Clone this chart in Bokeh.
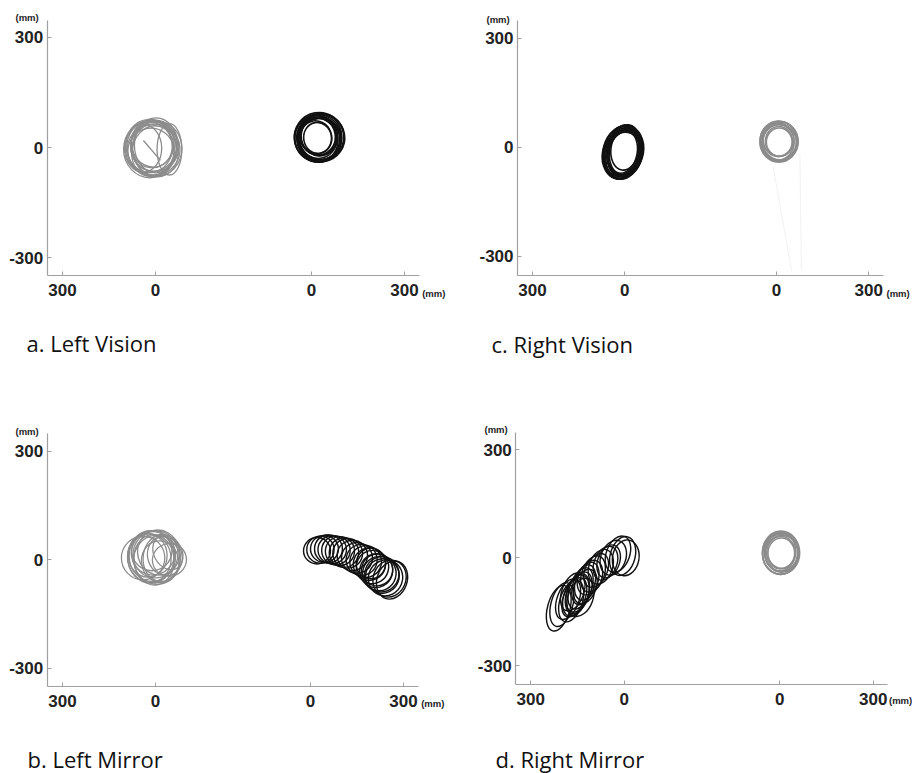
from bokeh.plotting import figure
from bokeh.models import FixedTicker, Label, ColumnDataSource
from bokeh.layouts import row, column
from bokeh.embed import file_html
from bokeh.resources import INLINE

# ---------------- data (mm, relative to each hand's own zero) ----------------
Y_TICKS = [-300, 0, 300]
Y_TICK_LABELS = ["-300", "0", "300"]
X_TICK_LABELS = ["300", "0", "0", "300"]
CAPTIONS = ["a. Left Vision", "c. Right Vision", "b. Left Mirror", "d. Right Mirror"]

# panel a - left vision: gray (left hand) loops
A_GRAY_X = [-12, -5, -18, 0, -10, -15, -2, -8, -20, 5, -12, -6, -14, 2, -40, 45]
A_GRAY_Y = [0, 5, -5, -8, 10, -2, 2, -10, 4, -3, 8, -6, -12, 6, -2, -5]
A_GRAY_W = [160, 150, 170, 145, 140, 165, 155, 135, 150, 160, 130, 170, 150, 140, 120, 80]
A_GRAY_H = [150, 140, 155, 145, 130, 150, 135, 140, 145, 150, 125, 140, 130, 150, 130, 140]
A_GRAY_A = [5, -10, 0, 15, -5, 10, 0, -15, 5, 0, 20, -5, 10, 0, 0, 0]
# panel a: black (right hand) loops
A_BLACK_X = [25, 22, 28, 20, 30, 24, 18, 26, 22, 30, 20, 25, 15, 28, 22, 20]
A_BLACK_Y = [28, 25, 30, 22, 26, 32, 24, 20, 30, 28, 26, 22, 28, 24, 30, 26]
A_BLACK_W = [160, 150, 140, 130, 155, 120, 145, 135, 110, 150, 125, 140, 100, 130, 115, 90]
A_BLACK_H = [135, 130, 125, 120, 130, 110, 128, 118, 100, 125, 112, 120, 90, 115, 105, 85]
A_BLACK_A = [10, 15, 5, 20, 10, 15, 25, 5, 10, 20, 15, 10, 20, 5, 15, 10]
A_STROKE_X = [-39, 16]
A_STROKE_Y = [19, -35]

# panel c - right vision: black (left hand) loops
C_BLACK_X = [-5, -8, -2, -6, 0, -10, -4, -3, -7, 2, -5, -9, 0, -4]
C_BLACK_Y = [-14, -18, -10, -15, -12, -20, -8, -16, -12, -14, -22, -10, -6, -18]
C_BLACK_W = [125, 118, 110, 130, 100, 115, 105, 120, 95, 108, 112, 122, 90, 100]
C_BLACK_H = [150, 140, 145, 148, 130, 138, 135, 142, 120, 132, 128, 140, 115, 125]
C_BLACK_A = [-12, -15, -10, -18, -8, -14, -12, -16, -10, -20, -12, -15, -8, -14]
# panel c: gray (right hand) loops
C_GRAY_X = [8, 6, 10, 9, 5, 12, 7, 10, 8, 9]
C_GRAY_Y = [15, 18, 12, 16, 14, 17, 20, 13, 16, 14]
C_GRAY_W = [124, 118, 112, 120, 105, 115, 100, 110, 88, 84]
C_GRAY_H = [112, 108, 100, 110, 98, 104, 92, 102, 82, 78]
C_DROP_X = [[-11, 49], [76, 81]]
C_DROP_Y = [[-55, -339], [-18, -339]]

# panel b - left mirror: gray (left hand) loops
B_GRAY_X = [-10, -20, 0, -5, 10, -15, 20, -8, 30, -25, 5, -12, 15, 40, -40, 45]
B_GRAY_Y = [10, 5, 15, 0, 20, 8, 5, 18, 10, 12, 0, 25, -5, 20, 5, 0]
B_GRAY_W = [150, 140, 145, 130, 135, 150, 120, 140, 110, 125, 150, 130, 120, 90, 140, 110]
B_GRAY_H = [140, 135, 130, 140, 125, 145, 130, 120, 110, 120, 135, 110, 115, 100, 120, 90]
B_GRAY_A = [0, 10, -10, 5, 15, 0, -5, 10, 20, 0, 5, -15, 10, 30, 0, 10]
# panel b: black (right hand) loops marching down-right
B_BLACK_X = [21, 32, 45, 58, 70, 82, 95, 108, 120, 135, 150, 165, 178, 190, 200, 212, 222, 232, 242, 255, 263, 215, 195, 230]
B_BLACK_Y = [25, 28, 30, 30, 28, 26, 24, 20, 18, 12, 5, 0, -5, -12, -20, -30, -38, -45, -50, -52, -56, -28, -10, -40]
B_BLACK_W = [87, 88, 90, 90, 92, 92, 94, 95, 96, 98, 100, 100, 102, 104, 104, 106, 108, 108, 110, 105, 97, 100, 95, 110]
B_BLACK_H = [73, 75, 75, 78, 78, 80, 80, 82, 82, 84, 85, 86, 88, 90, 92, 94, 95, 96, 100, 104, 108, 88, 85, 98]
B_BLACK_A = [0, 0, -5, -5, -5, -8, -8, -10, -10, -10, -12, -12, -15, -15, -15, -18, -18, -20, -20, -22, -20, -15, -12, -20]

# panel d - right mirror: black (left hand) loops marching down-left
D_BLACK_X = [-5, 5, -20, -35, -50, -60, -75, -90, -100, -110, -120, -130, -140, -145, -150, -155, -160, -165, -170, -180, -200, -210, -140, -125]
D_BLACK_Y = [5, 0, 10, 0, -10, -15, -25, -35, -45, -55, -65, -75, -85, -95, -100, -105, -110, -95, -120, -115, -130, -140, -110, -80]
D_BLACK_W = [80, 85, 75, 80, 70, 72, 75, 70, 72, 75, 70, 68, 70, 72, 70, 75, 68, 70, 72, 70, 70, 72, 80, 70]
D_BLACK_H = [110, 100, 105, 100, 95, 98, 100, 100, 105, 100, 110, 115, 120, 118, 115, 120, 115, 110, 120, 118, 125, 130, 110, 100]
D_BLACK_A = [-15, -10, -20, -20, -20, -22, -20, -25, -20, -22, -20, -18, -20, -22, -18, -20, -22, -20, -18, -20, -15, -15, -20, -20]
# panel d: gray (right hand) loops
D_GRAY_X = [4, 2, 6, 3, 5, 1, 7, 4, 5]
D_GRAY_Y = [14, 12, 16, 10, 15, 18, 12, 14, 13]
D_GRAY_W = [120, 114, 110, 116, 104, 100, 108, 92, 86]
D_GRAY_H = [120, 116, 112, 110, 106, 110, 100, 90, 84]

GRAY = "#8c8c8c"
BLACK = "#111111"
AXIS_COLOR = "#a0a0a0"
TEXT_COLOR = "#222222"


class Panel:
    """Pixel layout of one panel: figure box and axis geometry."""

    def __init__(self, fig, zero_x, sx, zero_y, sy, off, box):
        self.fl, self.ft, self.fw, self.fh = fig
        self.zx, self.sx, self.zy, self.sy, self.off = zero_x, sx, zero_y, sy, off
        self.box = box  # left, right, top, bottom (px)

    def dx(self, px):
        return (px - self.zx) / self.sx

    def dy(self, py):
        return (self.zy - py) / self.sy


def make_panel(g, caption, cap_px, ymm_px, xmm_px):
    p = figure(width=g.fw, height=g.fh,
               x_range=(g.dx(g.fl), g.dx(g.fl + g.fw)),
               y_range=(g.dy(g.ft + g.fh), g.dy(g.ft)),
               toolbar_location=None, output_backend="svg", title=None,
               min_border=0)
    p.grid.visible = False
    p.outline_line_color = None
    p.background_fill_color = "white"
    p.border_fill_color = "white"
    left, right, top, bottom = g.box
    ticks = [-300, 0, g.off, g.off + 300]
    p.xaxis.ticker = FixedTicker(ticks=ticks)
    p.xaxis.major_label_overrides = {t: s for t, s in zip(ticks, X_TICK_LABELS)}
    p.xaxis.fixed_location = g.dy(bottom)
    p.xaxis.bounds = (g.dx(left), g.dx(right))
    p.yaxis.ticker = FixedTicker(ticks=Y_TICKS)
    p.yaxis.major_label_overrides = {t: s for t, s in zip(Y_TICKS, Y_TICK_LABELS)}
    p.yaxis.fixed_location = g.dx(left)
    p.yaxis.bounds = (g.dy(bottom), g.dy(top))
    for ax in (p.xaxis, p.yaxis):
        ax.axis_line_color = AXIS_COLOR
        ax.axis_line_width = 1.2
        ax.major_tick_line_color = AXIS_COLOR
        ax.major_tick_in = 4
        ax.major_tick_out = 0
        ax.minor_tick_line_color = None
        ax.major_label_text_font = "Liberation Sans"
        ax.major_label_text_font_style = "bold"
        ax.major_label_text_font_size = "17px"
        ax.major_label_text_color = TEXT_COLOR
    p.xaxis.major_label_standoff = 8
    p.yaxis.major_label_standoff = 4

    for (px, py) in (ymm_px, xmm_px):
        p.add_layout(Label(x=g.dx(px), y=g.dy(py), text="(mm)", text_font="Liberation Sans",
                           text_font_style="bold", text_font_size="9.5px", text_baseline="middle",
                           text_color=TEXT_COLOR))
    p.add_layout(Label(x=g.dx(cap_px[0]), y=g.dy(cap_px[1]), text=caption, text_font="Open Sans",
                       text_font_size="22px", text_baseline="alphabetic", text_color="#111111"))
    return p


def loops(p, xs, ys, ws, hs, angs, shift, color, lw):
    src = ColumnDataSource(dict(x=[v + shift for v in xs], y=ys, w=ws, h=hs, a=angs))
    p.ellipse(x="x", y="y", width="w", height="h", angle="a", angle_units="deg", source=src,
              fill_color=None, line_color=color, line_width=lw)


ga = Panel((0, 0, 456, 416), 155, 0.31, 147, 0.3667, 503, (46.7, 419, 20, 275))
gc = Panel((456, 0, 456, 416), 624.3, 0.3077, 146.7, 0.3633, 493, (517, 882.7, 20, 275))
gb = Panel((0, 416, 456, 357), 155, 0.31, 559.3, 0.362, 500, (46.7, 418.3, 433, 686))
gd = Panel((456, 416, 456, 357), 623.7, 0.3117, 557.3, 0.36, 499, (515.3, 887, 431.7, 684))

pa = make_panel(ga, CAPTIONS[0], (26, 342), (15, 17), (421.7, 293))
loops(pa, A_GRAY_X, A_GRAY_Y, A_GRAY_W, A_GRAY_H, A_GRAY_A, 0, GRAY, 1.3)
pa.line(A_STROKE_X, A_STROKE_Y, line_color=GRAY, line_width=1.3)
loops(pa, A_BLACK_X, A_BLACK_Y, A_BLACK_W, A_BLACK_H, A_BLACK_A, ga.off, BLACK, 1.6)

pc = make_panel(gc, CAPTIONS[1], (491, 343), (486, 19), (886, 293))
loops(pc, C_BLACK_X, C_BLACK_Y, C_BLACK_W, C_BLACK_H, C_BLACK_A, 0, BLACK, 1.6)
pc.multi_line([[v + gc.off for v in xs] for xs in C_DROP_X], C_DROP_Y, line_color=GRAY,
              line_alpha=0.12, line_width=1)
loops(pc, C_GRAY_X, C_GRAY_Y, C_GRAY_W, C_GRAY_H, [0] * len(C_GRAY_X), gc.off, GRAY, 1.6)

pb = make_panel(gb, CAPTIONS[2], (27, 758), (15, 431), (420.7, 703))
loops(pb, B_GRAY_X, B_GRAY_Y, B_GRAY_W, B_GRAY_H, B_GRAY_A, 0, GRAY, 1.3)
loops(pb, B_BLACK_X, B_BLACK_Y, B_BLACK_W, B_BLACK_H, B_BLACK_A, gb.off, BLACK, 1.4)

pd_ = make_panel(gd, CAPTIONS[3], (495, 758), (484, 429), (888.5, 700))
loops(pd_, D_BLACK_X, D_BLACK_Y, D_BLACK_W, D_BLACK_H, D_BLACK_A, 0, BLACK, 1.4)
loops(pd_, D_GRAY_X, D_GRAY_Y, D_GRAY_W, D_GRAY_H, [0] * len(D_GRAY_X), gd.off, GRAY, 1.6)

layout = column(row(pa, pc), row(pb, pd_))
open("out.html", "w").write(file_html(layout, INLINE))
